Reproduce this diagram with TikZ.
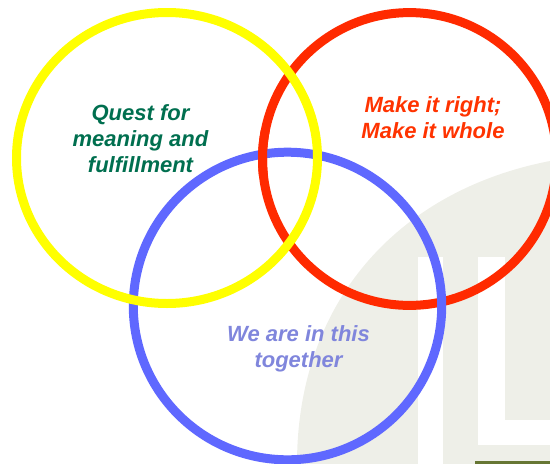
\documentclass[tikz,border=0pt]{standalone}
\usepackage{fontspec}
\setmainfont{Liberation Sans}
\definecolor{paleback}{HTML}{EEEFE8}
\definecolor{ringyellow}{HTML}{FFFF00}
\definecolor{ringred}{HTML}{FF2A00}
\definecolor{ringblue}{HTML}{5F68FF}
\definecolor{txtgreen}{HTML}{006F4F}
\definecolor{txtred}{HTML}{FF3300}
\definecolor{txtblue}{HTML}{8086DC}
\definecolor{barolive}{HTML}{667633}
\tikzset{
  ring/.style={draw=#1,line width=9pt,fill=none},
  vennlabel/.style={font=\bfseries\itshape\fontsize{22}{26}\selectfont,align=center,text=#1,inner sep=0pt},
  pale/.style={fill=paleback,draw=none},
  gap/.style={fill=white,draw=none}
}
\begin{document}
\begin{tikzpicture}[x=1pt,y=-1pt]
\useasboundingbox (0,0) rectangle (550,464);
\clip (0,0) rectangle (550,464);
% background watermark
\fill[pale] (297,464) .. controls (297,300) and (400,190) .. (550,161) -- (550,464) -- cycle;
\fill[gap] (418,257) rectangle (443,464);
\fill[gap] (478,257) rectangle (505,445);
\fill[gap] (478,420) rectangle (550,445);
\fill[barolive] (475,461) rectangle (550,464);
% rings
\draw[ring=ringred] (409.5,159) ellipse [x radius=147,y radius=146.4];
\draw[ring=ringblue] (287.5,306) ellipse [x radius=154.2,y radius=153.8];
\draw[ring=ringyellow] (167,158) ellipse [x radius=150.5,y radius=145.5];
% red passes over blue at the upper left crossing
\begin{scope}
\clip (240,130) rectangle (285,175);
\draw[ring=ringred] (409.5,159) ellipse [x radius=147,y radius=146.4];
\end{scope}
% labels
\node[vennlabel=txtgreen] (quest) at (140.5,139) {Quest for\\meaning and\\fulfillment};
\node[vennlabel=txtred] (right) at (433,118) {Make it right;\\Make it whole};
\node[vennlabel=txtblue] (together) at (298.5,349) {We are in this\\together};
\end{tikzpicture}
\end{document}
